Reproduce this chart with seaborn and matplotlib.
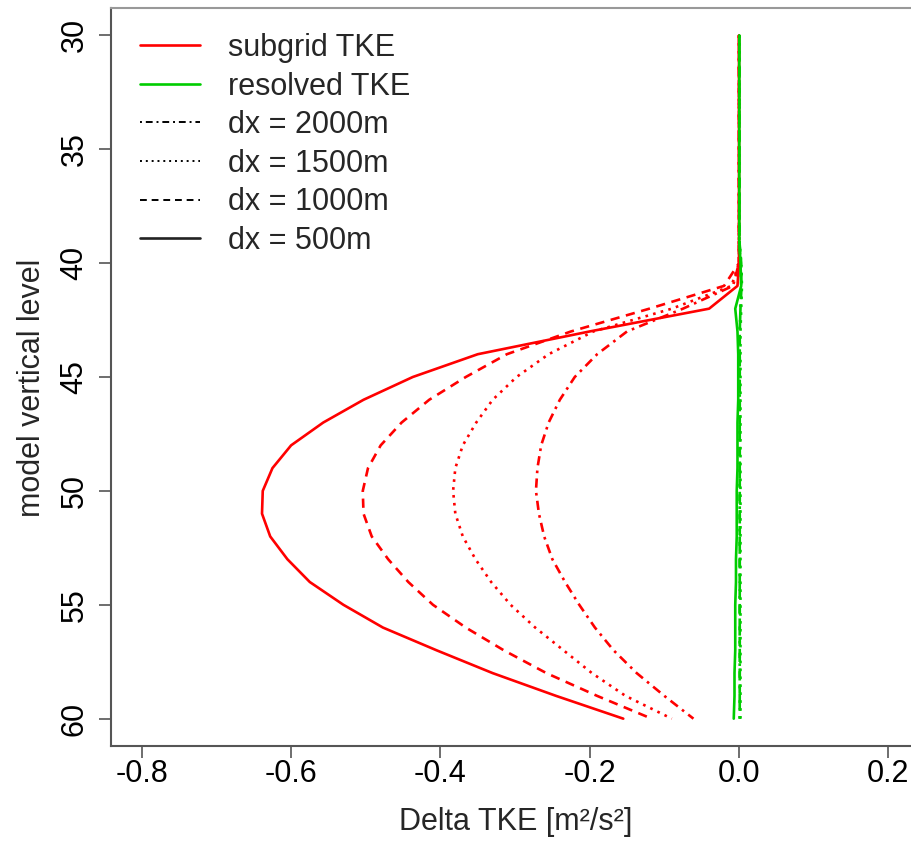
import numpy as np
import pandas as pd
import matplotlib
matplotlib.use("Agg")
import matplotlib.pyplot as plt
import seaborn as sns
from matplotlib.lines import Line2D

# ---------------- data ----------------
levels = list(range(30, 61))
zeros_top = [0.0] * 11  # levels 30..40

sub_500 = zeros_top + [-0.002, -0.04, -0.20, -0.35, -0.437, -0.503, -0.557, -0.600, -0.625, -0.638,
                       -0.639, -0.628, -0.605, -0.575, -0.53, -0.477, -0.405, -0.33, -0.245, -0.155]
sub_1000 = zeros_top + [-0.02, -0.12, -0.225, -0.311, -0.366, -0.415, -0.452, -0.48, -0.497, -0.504,
                        -0.503, -0.492, -0.47, -0.443, -0.41, -0.366, -0.315, -0.258, -0.19, -0.117]
sub_1500 = zeros_top + [-0.01, -0.09, -0.195, -0.255, -0.298, -0.33, -0.352, -0.37, -0.38, -0.383,
                        -0.38, -0.37, -0.353, -0.332, -0.306, -0.273, -0.235, -0.197, -0.152, -0.09]
sub_2000 = zeros_top + [-0.008, -0.075, -0.15, -0.19, -0.22, -0.24, -0.255, -0.265, -0.27, -0.272,
                        -0.268, -0.261, -0.25, -0.233, -0.214, -0.193, -0.168, -0.137, -0.10, -0.061]

res_500 = [0.0005] * 10 + [0.002, 0.003, -0.005, -0.002, -0.001, -0.001, -0.001, -0.002, -0.002, -0.002,
                           -0.003, -0.003, -0.003, -0.004, -0.004, -0.005, -0.005, -0.005, -0.006, -0.006, -0.007]
res_1000 = [0.0005] * 10 + [0.003, 0.003, 0.002] + [0.001] * 18
res_1500 = [0.0005] * 10 + [0.003, 0.004, 0.003] + [0.002] * 18
res_2000 = [0.0005] * 10 + [0.002, 0.003, 0.002] + [0.001] * 18

resolutions = ["dx = 2000m", "dx = 1500m", "dx = 1000m", "dx = 500m"]
x_ticks = [-0.8, -0.6, -0.4, -0.2, 0.0, 0.2]
y_ticks = [30, 35, 40, 45, 50, 55, 60]

# ---------------- styling ----------------
sns.set_style("white")
plt.rcParams["font.family"] = ["Liberation Sans", "DejaVu Sans"]
plt.rcParams["axes.unicode_minus"] = False
FS = 22

RED = "#FF0000"
GREEN = "#00CC00"
styles = {
    "dx = 2000m": (0, (1, 2, 3.5, 2)),
    "dx = 1500m": (0, (1, 2)),
    "dx = 1000m": (0, (3.5, 2.5)),
    "dx = 500m": "solid",
}

rows = []
for name, vals in zip(resolutions, [sub_2000, sub_1500, sub_1000, sub_500]):
    for lv, v in zip(levels, vals):
        rows.append(dict(kind="subgrid TKE", res=name, level=lv, dtke=v))
for name, vals in zip(resolutions, [res_2000, res_1500, res_1000, res_500]):
    for lv, v in zip(levels, vals):
        rows.append(dict(kind="resolved TKE", res=name, level=lv, dtke=v))
df = pd.DataFrame(rows)

fig = plt.figure(figsize=(9.12, 8.42), dpi=100)
W, H = 912, 842
ax_left, ax_right, ax_top, ax_bottom = 111, 912, 8, 746
ax = fig.add_axes([ax_left / W, (H - ax_bottom) / H, (ax_right - ax_left) / W, (ax_bottom - ax_top) / H])

LW = 1.9
for kind, col in [("subgrid TKE", RED), ("resolved TKE", GREEN)]:
    for name in resolutions:
        sub = df[(df.kind == kind) & (df.res == name)]
        sns.lineplot(data=sub, x="dtke", y="level", sort=False, estimator=None,
                     color=col, linewidth=LW, linestyle=styles[name], ax=ax, legend=False)

ax.set_xlim(-0.8413, 0.2318)
ax.set_ylim(61.2, 28.8)
ax.set_xticks(x_ticks)
ax.set_xticklabels([f"{t:.1f}" for t in x_ticks])
ax.set_yticks(y_ticks)
ax.set_yticklabels([str(t) for t in y_ticks], rotation=90, va="center")

ax.tick_params(axis="both", which="major", direction="out", length=8.5, width=1.2,
               color="#555555", labelsize=FS, labelcolor="black", left=True, bottom=True)
ax.tick_params(axis="x", pad=1)
ax.tick_params(axis="y", pad=7)

for s in ["left", "bottom"]:
    ax.spines[s].set_color("#555555")
    ax.spines[s].set_linewidth(1.5)
ax.spines["top"].set_color("#999999")
ax.spines["top"].set_linewidth(1.5)
ax.spines["right"].set_visible(False)

ax.set_xlabel("Delta TKE [m²/s²]", fontsize=FS)
ax.set_ylabel("model vertical level", fontsize=FS)
ax.xaxis.set_label_coords((516 - ax_left) / (ax_right - ax_left), -(822 - ax_bottom) / (ax_bottom - ax_top))
ax.xaxis.label.set_va("center")
ax.yaxis.set_label_coords(-(ax_left - 32) / (ax_right - ax_left), (ax_bottom - 388) / (ax_bottom - ax_top))
ax.yaxis.label.set_va("center")

# legend
handles = [
    Line2D([], [], color=RED, lw=LW),
    Line2D([], [], color=GREEN, lw=LW),
    Line2D([], [], color="black", lw=1.4, linestyle=styles["dx = 2000m"]),
    Line2D([], [], color="black", lw=1.4, linestyle=styles["dx = 1500m"]),
    Line2D([], [], color="black", lw=1.4, linestyle=styles["dx = 1000m"]),
    Line2D([], [], color="#222222", lw=LW, linestyle="solid"),
]
labels = ["subgrid TKE", "resolved TKE"] + resolutions
ax.legend(handles, labels, loc="upper left", bbox_to_anchor=(140 / W, 1 - 33 / H),
          bbox_transform=fig.transFigure, frameon=False, fontsize=FS,
          handlelength=60 / (FS * 100 / 72), handletextpad=28 / (FS * 100 / 72), labelspacing=0.28,
          borderpad=0, borderaxespad=0)

fig.savefig("out.png", dpi=100, facecolor="white")
